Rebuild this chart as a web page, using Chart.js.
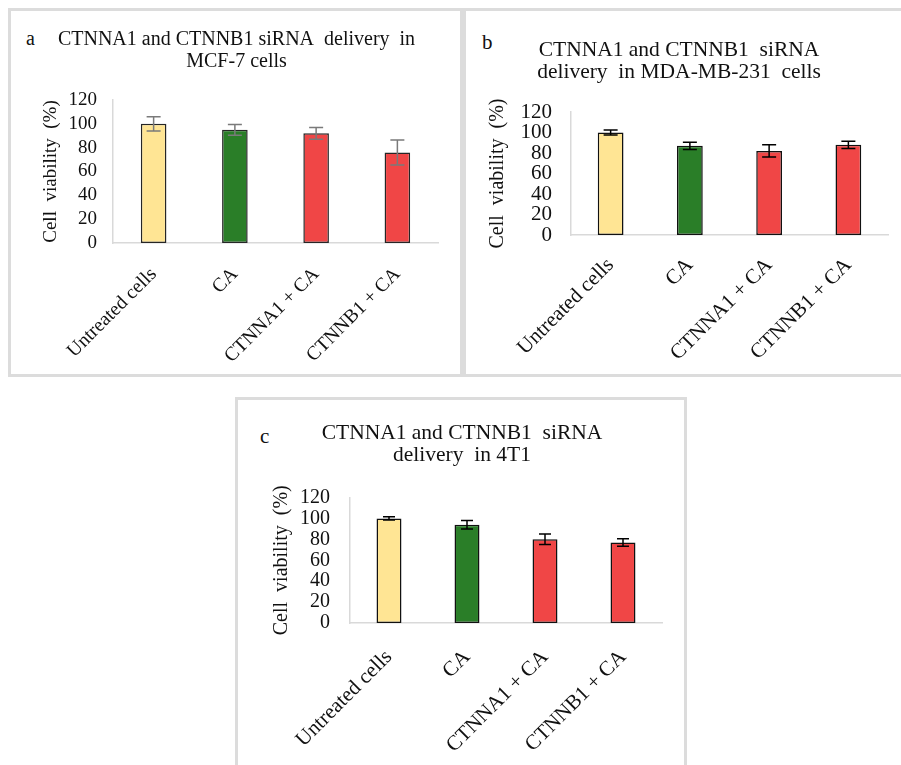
<!DOCTYPE html>
<html>
<head>
<meta charset="utf-8">
<script src="https://cdn.jsdelivr.net/npm/chart.js@4.4.0/dist/chart.umd.min.js"></script>
<style>
  body { margin:0; background:#fff; width:901px; height:765px; overflow:hidden; position:relative;
         font-family:"Liberation Serif","Times New Roman",serif; }
  .frame { position:absolute; border:3px solid #dcdcdc; box-sizing:border-box; }
  canvas { position:absolute; }
  .tag { position:absolute; font-size:20px; color:#111; line-height:1; }
</style>
</head>
<body>
<div class="frame" style="left:8px;top:8px;width:455px;height:369px"></div>
<div class="frame" style="left:463px;top:8px;width:450px;height:369px"></div>
<div class="frame" style="left:235px;top:397px;width:452px;height:380px"></div>

<div class="tag" style="left:26px;top:28px">a</div>
<div class="tag" style="left:482px;top:32px;font-size:21px">b</div>
<div class="tag" style="left:260px;top:426px;font-size:21px">c</div>

<canvas id="chartA" width="449" height="360" style="left:12px;top:12px"></canvas>
<canvas id="chartB" width="424" height="360" style="left:467px;top:12px"></canvas>
<canvas id="chartC" width="446" height="365" style="left:239px;top:400px"></canvas>

<script>
// Treatment groups shared by all three cell lines
const categories = ['Untreated cells', 'CA', 'CTNNA1 + CA', 'CTNNB1 + CA'];

// Cell viability (%) and error (±) per cell line
const mcf7Viability = [100, 95, 92, 76];
const mcf7Error     = [6, 4.5, 5, 10.5];

const mdaViability  = [100, 87, 82, 88];
const mdaError      = [2.5, 3.5, 6, 3.5];

const t1Viability   = [100, 94, 80, 77];
const t1Error       = [1.5, 4, 5, 3.5];

// Y axis range and tick step
const yMin = 0, yMax = 120, yStep = 20;

const titleA = ['CTNNA1 and CTNNB1 siRNA  delivery  in', 'MCF-7 cells'];
const titleB = ['CTNNA1 and CTNNB1  siRNA', 'delivery  in MDA-MB-231  cells'];
const titleC = ['CTNNA1 and CTNNB1  siRNA', 'delivery  in 4T1'];
const yTitle = 'Cell  viability  (%)';

const barColors = ['#FFE594', '#2A7E28', '#F04646', '#F04646'];

// Draws vertical error bars with caps for every bar of the first dataset
const errorBarPlugin = {
  id: 'errorBars',
  afterDatasetsDraw(chart, args, opts) {
    const meta = chart.getDatasetMeta(0);
    const yScale = chart.scales.y;
    const values = chart.data.datasets[0].data;
    const ctx = chart.ctx;
    ctx.save();
    ctx.strokeStyle = opts.color;
    ctx.lineWidth = opts.width;
    meta.data.forEach((bar, i) => {
      const v = values[i], e = opts.errors[i];
      const x = bar.x;
      const yTop = yScale.getPixelForValue(v + e);
      const yBot = yScale.getPixelForValue(v - e);
      const h = opts.cap / 2;
      ctx.beginPath();
      ctx.moveTo(x, yTop); ctx.lineTo(x, yBot);
      ctx.moveTo(x - h, yTop); ctx.lineTo(x + h, yTop);
      ctx.moveTo(x - h, yBot); ctx.lineTo(x + h, yBot);
      ctx.stroke();
    });
    ctx.restore();
  }
};

function makeChart(id, p) {
  const font = 'Liberation Serif';
  return new Chart(document.getElementById(id), {
    type: 'bar',
    data: {
      labels: categories,
      datasets: [{
        data: p.values,
        backgroundColor: barColors,
        borderColor: p.barBorder,
        borderWidth: 1.5,
        borderSkipped: false,
        barPercentage: p.barPct,
        categoryPercentage: 1
      }]
    },
    options: {
      responsive: false,
      animation: false,
      devicePixelRatio: 1,
      layout: { padding: { left: p.padSide, right: p.padSide, top: 0, bottom: 0 } },
      plugins: {
        legend: { display: false },
        tooltip: { enabled: false },
        title: {
          display: true,
          text: p.title,
          color: '#111',
          font: { family: font, size: p.titleSize, weight: 'normal', lineHeight: '22px' },
          padding: { top: p.titleTop, bottom: p.titleBottom }
        },
        errorBars: { errors: p.errors, color: p.errColor, width: p.errWidth, cap: p.cap }
      },
      scales: {
        x: {
          grid: { display: false, drawTicks: false },
          border: { display: true, color: '#d9d9d9', width: 1.5 },
          ticks: {
            color: '#111', autoSkip: false, minRotation: 45, maxRotation: 45,
            padding: p.xPad, font: { family: font, size: p.xTickSize }
          },
          afterFit(scale) { scale.height = p.xHeight; }
        },
        y: {
          min: yMin, max: yMax,
          grid: { display: false, drawTicks: false },
          border: { display: true, color: '#d9d9d9', width: 1.5 },
          ticks: {
            stepSize: yStep, autoSkip: false, color: '#111', padding: p.yPad,
            font: { family: font, size: p.tickSize }
          },
          title: {
            display: true, text: yTitle, color: '#111',
            font: { family: font, size: p.yTitleSize },
            padding: { top: p.yTitleTop, bottom: 0 }
          },
          afterFit(scale) { scale.width = p.yWidth; }
        }
      }
    },
    plugins: [errorBarPlugin]
  });
}

makeChart('chartA', {
  values: mcf7Viability, errors: mcf7Error, title: titleA,
  titleSize: 20, titleTop: 17, titleBottom: 27,
  tickSize: 19, xTickSize: 19.5, yTitleSize: 19, yTitleTop: 5, yPad: 16, yWidth: 78,
  xPad: 20, xHeight: 129, padSide: 23, barPct: 0.315,
  barBorder: '#262626', errColor: '#7a7a7a', errWidth: 1.5, cap: 14
});

makeChart('chartB', {
  values: mdaViability, errors: mdaError, title: titleB,
  titleSize: 21.5, titleTop: 27, titleBottom: 29,
  tickSize: 21, xTickSize: 21, yTitleSize: 20, yTitleTop: 16, yPad: 19, yWidth: 101,
  xPad: 18, xHeight: 137, padSide: 3, barPct: 0.325,
  barBorder: '#111', errColor: '#000', errWidth: 1.5, cap: 14
});

makeChart('chartC', {
  values: t1Viability, errors: t1Error, title: titleC,
  titleSize: 21.5, titleTop: 22, titleBottom: 31.5,
  tickSize: 20, xTickSize: 21, yTitleSize: 20, yTitleTop: 8, yPad: 20, yWidth: 88,
  xPad: 22, xHeight: 142, padSide: 23, barPct: 0.32,
  barBorder: '#111', errColor: '#000', errWidth: 1.5, cap: 12
});
</script>
</body>
</html>
